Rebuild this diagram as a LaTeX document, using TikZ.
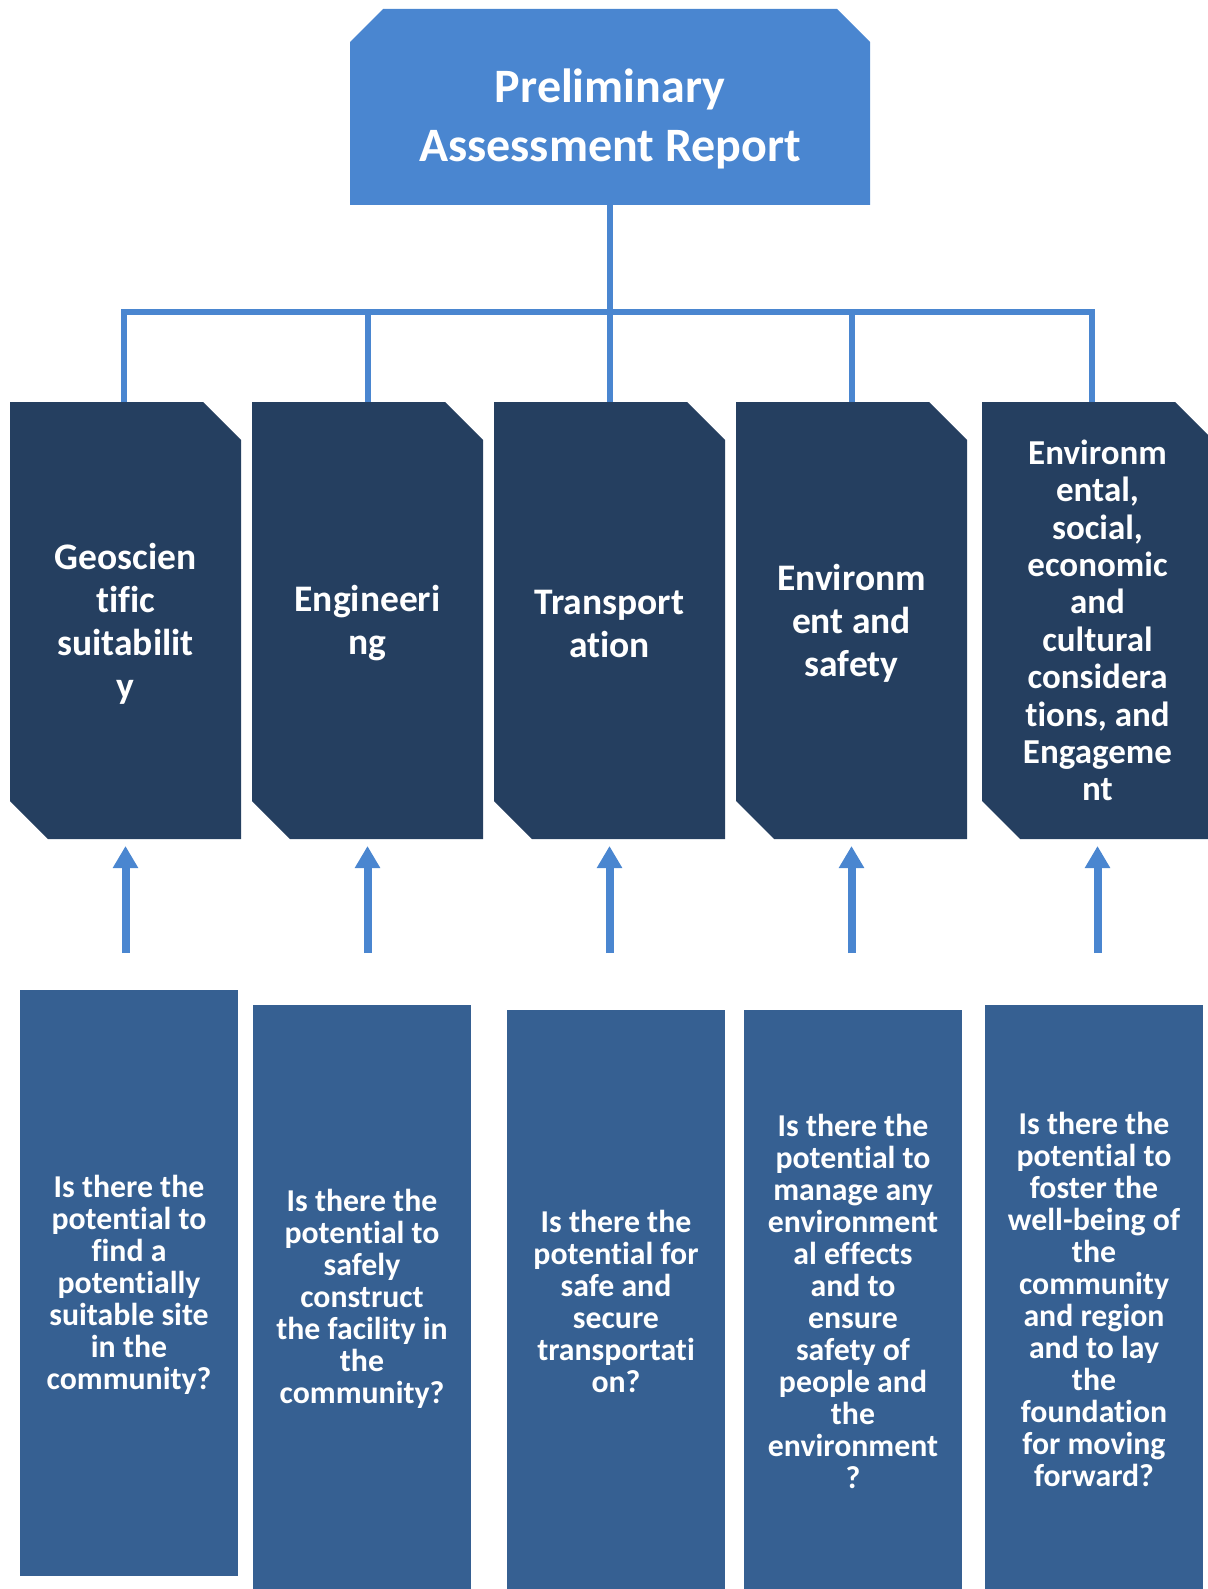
\documentclass[tikz,border=0pt]{standalone}
\usepackage{fontspec}
\setmainfont{Carlito}[Ligatures={NoCommon,NoRare,NoContextual}]
\usetikzlibrary{calc,arrows.meta}
\definecolor{topblue}{HTML}{4A86D0}
\definecolor{navy}{HTML}{253F60}
\definecolor{midblue}{HTML}{366092}
\definecolor{linkblue}{HTML}{4A86D0}
\begin{document}
\begin{tikzpicture}[x=1pt,y=-1pt,
  frame/.style={inner sep=0pt, outer sep=0pt, anchor=north west},
  coltext/.style={text=white,font=\bfseries\fontsize{37.5}{43}\selectfont,align=center,inner sep=0pt},
  coltextb/.style={text=white,font=\bfseries\fontsize{35}{37.4}\selectfont,align=center,inner sep=0pt},
  qtext/.style={text=white,font=\bfseries\fontsize{31.8}{32}\selectfont,align=center,inner sep=0pt},
  titletext/.style={text=white,font=\bfseries\fontsize{48}{59}\selectfont,align=center,inner sep=0pt},
  link/.style={draw=linkblue,line width=6pt},
  uparrow/.style={draw=linkblue,line width=8pt,-{Triangle[width=24pt,length=22pt]}}]
\useasboundingbox (0,0) rectangle (1207,1589);

% frames
\node[frame,minimum width=520pt,minimum height=196pt] (top) at (350,9) {};
\node[frame,minimum width=231pt,minimum height=437pt] (c1) at (10,402) {};
\node[frame,minimum width=231pt,minimum height=437pt] (c2) at (252,402) {};
\node[frame,minimum width=231pt,minimum height=437pt] (c3) at (494,402) {};
\node[frame,minimum width=231pt,minimum height=437pt] (c4) at (736,402) {};
\node[frame,minimum width=231pt,minimum height=437pt] (c5) at (982,402) {};
\node[frame,minimum width=218pt,minimum height=586pt] (q1) at (20,990) {};
\node[frame,minimum width=218pt,minimum height=584pt] (q2) at (253,1005) {};
\node[frame,minimum width=218pt,minimum height=579pt] (q3) at (507,1010) {};
\node[frame,minimum width=218pt,minimum height=579pt] (q4) at (744,1010) {};
\node[frame,minimum width=218pt,minimum height=584pt] (q5) at (985,1005) {};

% fills
\fill[topblue] ([yshift=-33pt]top.north west) -- ([xshift=33pt]top.north west)
  -- ([xshift=-33pt]top.north east) -- ([yshift=-33pt]top.north east)
  -- (top.south east) -- (top.south west) -- cycle;
\foreach \c in {c1,c2,c3,c4,c5}{
  \fill[navy] (\c.north west) -- ([xshift=-38pt]\c.north east) -- ([yshift=-38pt]\c.north east)
    -- (\c.south east) -- ([xshift=38pt]\c.south west) -- ([yshift=38pt]\c.south west) -- cycle;
}
\foreach \q in {q1,q2,q3,q4,q5}{
  \fill[midblue] (\q.north west) rectangle (\q.south east);
}

% connectors
\coordinate (hub) at (608,312);
\coordinate (d1) at ([xshift=-2pt]c1.north);
\coordinate (d5) at ([xshift=-6pt]c5.north);
\draw[link] (top.south) -- (top.south |- hub);
\draw[link] (d1) -- (d1 |- hub) -- (d5 |- hub) -- (d5);
\draw[link] (c2.north |- hub) -- (c2.north);
\draw[link] (c3.north |- hub) -- (c3.north);
\draw[link] (c4.north |- hub) -- (c4.north);

\coordinate (abase) at (0,953);
\foreach \c in {c1,c2,c3,c4,c5}{
  \draw[uparrow] (\c.south |- abase) -- ([yshift=-7pt]\c.south);
}

% texts
\node[titletext] (ttl) at ([yshift=-12pt]top.center) {Preliminary\\Assessment Report};
\node[coltext] (t1) at ([yshift=-3pt]c1.center) {Geoscien\\tific\\suitabilit\\y};
\node[coltext] (t2) at ([yshift=-3pt]c2.center) {Engineeri\\ng};
\node[coltext] (t3) at ([yshift=-3pt]c3.center) {Transport\\ation};
\node[coltext] (t4) at ([yshift=-3pt]c4.center) {Environm\\ent and\\safety};
\node[coltextb] (t5) at (c5.center) {Environm\\ental,\\social,\\economic\\and\\cultural\\considera\\tions, and\\Engageme\\nt};

\node[qtext] (u1) at ([yshift=-2pt]q1.center) {Is there the\\potential to\\find a\\potentially\\suitable site\\in the\\community?};
\node[qtext] (u2) at ([yshift=-2pt]q2.center) {Is there the\\potential to\\safely\\construct\\the facility in\\the\\community?};
\node[qtext] (u3) at ([yshift=-2pt]q3.center) {Is there the\\potential for\\safe and\\secure\\transportati\\on?};
\node[qtext] (u4) at ([yshift=-2pt]q4.center) {Is there the\\potential to\\manage any\\environment\\al effects\\and to\\ensure\\safety of\\people and\\the\\environment\\?};
\node[qtext] (u5) at ([yshift=-2pt]q5.center) {Is there the\\potential to\\foster the\\well-being of\\the\\community\\and region\\and to lay\\the\\foundation\\for moving\\forward?};
\end{tikzpicture}
\end{document}
